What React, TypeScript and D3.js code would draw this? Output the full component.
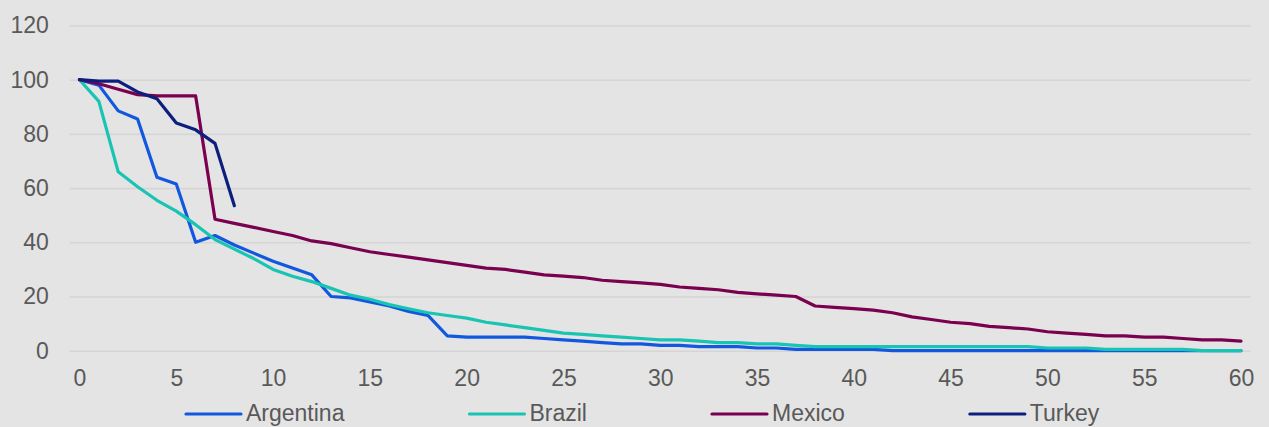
import React, { useEffect, useRef } from "react";
import * as d3 from "d3";

// values, index = x position 0..60
const argentina = [
  100, 98, 88.5, 85.5, 64, 61.5, 40, 42.5, 39, 36, 33, 30.5, 28, 20, 19.5, 18, 16.5, 14.5, 13, 5.5,
  5, 5, 5, 5, 4.5, 4, 3.5, 3, 2.5, 2.5, 2, 2, 1.5, 1.5, 1.5, 1, 1, 0.5, 0.5, 0.5,
  0.5, 0.5, 0, 0, 0, 0, 0, 0, 0, 0, 0, 0, 0, 0, 0, 0, 0, 0, 0, 0, 0,
];
const brazil = [
  100, 92, 66, 60.5, 55.5, 51.5, 46.5, 41, 37.5, 34, 30, 27.5, 25.5, 23, 20.5, 19, 17, 15.5, 14, 13,
  12, 10.5, 9.5, 8.5, 7.5, 6.5, 6, 5.5, 5, 4.5, 4, 4, 3.5, 3, 3, 2.5, 2.5, 2, 1.5, 1.5,
  1.5, 1.5, 1.5, 1.5, 1.5, 1.5, 1.5, 1.5, 1.5, 1.5, 1, 1, 1, 0.5, 0.5, 0.5, 0.5, 0.5, 0, 0, 0,
];
const mexico = [
  100, 98.5, 96.5, 94.5, 94, 94, 94, 48.5, 47, 45.5, 44, 42.5, 40.5, 39.5, 38, 36.5, 35.5, 34.5, 33.5, 32.5,
  31.5, 30.5, 30, 29, 28, 27.5, 27, 26, 25.5, 25, 24.5, 23.5, 23, 22.5, 21.5, 21, 20.5, 20, 16.5, 16,
  15.5, 15, 14, 12.5, 11.5, 10.5, 10, 9, 8.5, 8, 7, 6.5, 6, 5.5, 5.5, 5, 5, 4.5, 4, 4, 3.5,
];
const turkey = [100, 99.5, 99.5, 95.5, 93, 84, 81.5, 76.5, 53.5];

const seriesNames = ["Argentina", "Brazil", "Mexico", "Turkey"];
const seriesColors = ["#1258df", "#19c4b3", "#7a0050", "#0c1f7c"];
const yTicks = [0, 20, 40, 60, 80, 100, 120];
const xTicks = [0, 5, 10, 15, 20, 25, 30, 35, 40, 45, 50, 55, 60];

const W = 1269;
const H = 427;
const FONT = "'Liberation Sans', Arial, sans-serif";

export default function App() {
  const ref = useRef<SVGSVGElement>(null);

  useEffect(() => {
    const svg = d3.select(ref.current);
    svg.selectAll("*").remove();

    const x = d3.scaleLinear().domain([0, 60]).range([79.5, 1241]);
    const y = d3.scaleLinear().domain([0, 120]).range([350.7, 25.5]);
    const halfStep = (x(1) - x(0)) / 2;

    svg.append("rect").attr("width", W).attr("height", H).attr("fill", "#e4e4e4");

    // horizontal gridlines + y labels
    const yAxis = svg
      .append("g")
      .attr("transform", `translate(${x(0) - halfStep},0)`)
      .call(
        d3
          .axisLeft(y)
          .tickValues(yTicks)
          .tickSize(-(x(60) - x(0) + 2 * halfStep))
          .tickPadding(21)
      );
    yAxis.select(".domain").remove();
    yAxis.selectAll(".tick line").attr("stroke", "#d5d5d5").attr("stroke-width", 1.6);
    yAxis
      .selectAll(".tick text")
      .attr("fill", "#595959")
      .style("font-family", FONT)
      .style("font-size", "23px");

    // x labels
    const xAxis = svg
      .append("g")
      .attr("transform", `translate(0,${y(0)})`)
      .call(d3.axisBottom(x).tickValues(xTicks).tickSize(0).tickPadding(19));
    xAxis.select(".domain").remove();
    xAxis
      .selectAll(".tick text")
      .attr("fill", "#595959")
      .style("font-family", FONT)
      .style("font-size", "23px");

    const line = d3
      .line<number>()
      .x((d, i) => x(i))
      .y((d) => y(d));

    const allSeries = [argentina, brazil, mexico, turkey];
    allSeries.forEach((vals, k) => {
      svg
        .append("path")
        .datum(vals)
        .attr("d", line)
        .attr("fill", "none")
        .attr("stroke", seriesColors[k])
        .attr("stroke-width", 3.2)
        .attr("stroke-linejoin", "round")
        .attr("stroke-linecap", "round");
    });

    // legend, laid out by text width
    const legend = svg.append("g").attr("transform", "translate(0,414)");
    let cx = 186;
    seriesNames.forEach((name, k) => {
      legend
        .append("line")
        .attr("x1", cx)
        .attr("x2", cx + 55)
        .attr("stroke", seriesColors[k])
        .attr("stroke-width", 3.2)
        .attr("stroke-linecap", "round");
      const t = legend
        .append("text")
        .attr("x", cx + 60)
        .attr("y", 7)
        .attr("fill", "#595959")
        .style("font-family", FONT)
        .style("font-size", "23px")
        .text(name);
      const w = (t.node() as SVGTextElement).getComputedTextLength();
      cx = cx + 60 + w + 125;
    });
  }, []);

  return (
    <div style={{ position: "fixed", left: 0, top: 0, width: W, height: H }}>
      <svg ref={ref} width={W} height={H} />
    </div>
  );
}
